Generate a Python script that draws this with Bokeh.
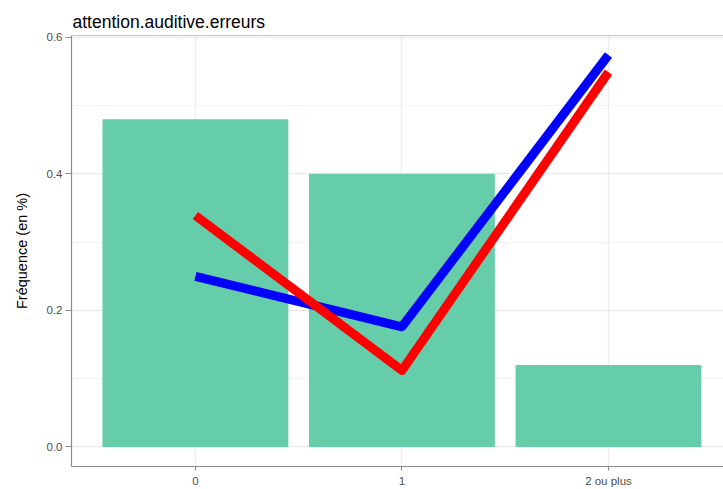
from bokeh.plotting import figure
from bokeh.models import Range1d, FixedTicker, Span, NumeralTickFormatter
from bokeh.embed import file_html
from bokeh.resources import INLINE

title_text = "attention.auditive.erreurs"
y_label = "Fréquence (en %)"
categories = ["0", "1", "2 ou plus"]
bar_freq = [0.48, 0.40, 0.12]
blue_freq = [0.25, 0.176, 0.574]
red_freq = [0.339, 0.112, 0.549]
y_ticks = [0.0, 0.2, 0.4, 0.6]
y_minor = [0.1, 0.3, 0.5]

FONT = "Liberation Sans"
BORDER = "#8C8C8C"

xs = list(range(len(categories)))
ymax = max(max(bar_freq), max(blue_freq), max(red_freq))
pad = 0.05 * ymax

p = figure(width=723, height=489, output_backend="svg", toolbar_location=None,
           x_range=Range1d(-0.6, 2.557), y_range=Range1d(-pad, ymax + pad),
           min_border_left=71, min_border_right=0, min_border_top=35, min_border_bottom=22)
p.outline_line_color = None
p.background_fill_color = "white"
p.border_fill_color = "white"

p.title.text = title_text
p.title.text_font = FONT
p.title.text_font_size = "17.5px"
p.title.text_font_style = "normal"
p.title.text_color = "black"
p.title.align = "left"
p.title.standoff = 7
p.title.offset = 1

p.vbar(x=xs, top=bar_freq, width=0.9, fill_color="#66CDAA", line_color=None)
p.line(xs, blue_freq, line_color="#0000FF", line_width=9, line_join="round", line_cap="butt")
p.line(xs, red_freq, line_color="#FF0000", line_width=9, line_join="round", line_cap="butt")

p.add_layout(Span(location=p.y_range.end, dimension="width", line_color=BORDER, line_width=1.2))

p.yaxis.ticker = FixedTicker(ticks=y_ticks, minor_ticks=y_minor)
p.yaxis.formatter = NumeralTickFormatter(format="0.0")
p.xaxis.ticker = FixedTicker(ticks=xs, minor_ticks=[])
p.xaxis.major_label_overrides = {i: c for i, c in enumerate(categories)}

for ax in (p.xaxis, p.yaxis):
    ax.axis_line_color = BORDER
    ax.axis_line_width = 1.2
    ax.major_tick_line_color = BORDER
    ax.major_tick_line_width = 1.2
    ax.major_tick_in = 0
    ax.minor_tick_line_color = None
    ax.major_label_text_font = FONT
    ax.major_label_text_font_size = "11.5px"
    ax.major_label_text_color = "#4D4D4D"

p.yaxis.major_tick_out = 6
p.yaxis.major_label_standoff = 3
p.xaxis.major_tick_out = 4
p.xaxis.major_label_standoff = 4

p.yaxis.axis_label = y_label
p.yaxis.axis_label_text_font = FONT
p.yaxis.axis_label_text_font_size = "14.5px"
p.yaxis.axis_label_text_font_style = "normal"
p.yaxis.axis_label_text_color = "black"
p.yaxis.axis_label_standoff = 14

p.ygrid.grid_line_color = "#EBEBEB"
p.ygrid.grid_line_width = 1.3
p.ygrid.minor_grid_line_color = "#F0F0F0"
p.ygrid.minor_grid_line_width = 0.8
p.xgrid.grid_line_color = "#EBEBEB"
p.xgrid.grid_line_width = 1.3

open("out.html", "w").write(file_html(p, INLINE))
